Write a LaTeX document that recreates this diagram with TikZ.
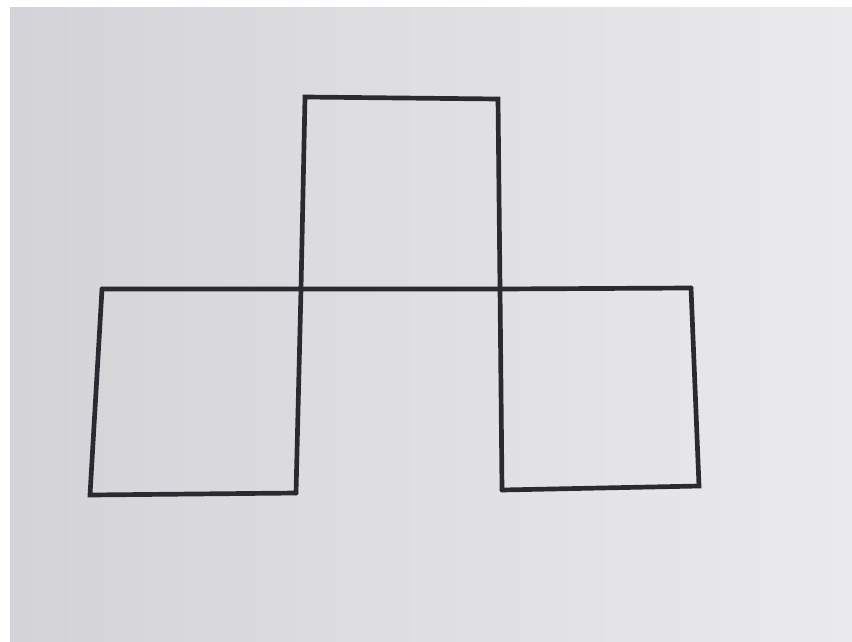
\documentclass[tikz,border=0pt]{standalone}
\usetikzlibrary{calc}
\definecolor{PaperDark}{RGB}{212,212,216}
\definecolor{PaperLight}{RGB}{234,234,236}
\definecolor{InkGray}{RGB}{42,42,48}
\tikzset{
  net/paper/.style={left color=PaperDark, right color=PaperLight, draw=none},
  net/ink/.style={draw=InkGray, line width=4pt, line cap=round, line join=miter}
}
\begin{document}
\begin{tikzpicture}[x=0.03cm,y=-0.03cm]
  % page and paper
  \fill[white] (0,0) rectangle (852,641);
  \useasboundingbox (0,0) rectangle (852,641);
  \shade[net/paper] (10,7) rectangle (852,641);
  % corners of the net
  \coordinate (topL) at (305,97);
  \coordinate (topR) at (498,99);
  \coordinate (midL) at (301,289);
  \coordinate (midR) at (500,289);
  \coordinate (leftT) at (102,289);
  \coordinate (leftB) at (90,495);
  \coordinate (cenBL) at (296,493);
  \coordinate (cenBR) at (502,490);
  \coordinate (rightT) at (691,288);
  \coordinate (rightB) at (699,486);
  % top square
  \draw[net/ink] (cenBL) -- (midL) -- (topL) -- (topR) -- (midR) -- (cenBR);
  % middle line across
  \draw[net/ink] (leftT) -- (midL) -- (midR) -- (rightT);
  % left square
  \draw[net/ink] (leftT) -- (leftB) -- (cenBL);
  % right square
  \draw[net/ink] (rightT) -- (rightB) -- (cenBR);
\end{tikzpicture}
\end{document}
